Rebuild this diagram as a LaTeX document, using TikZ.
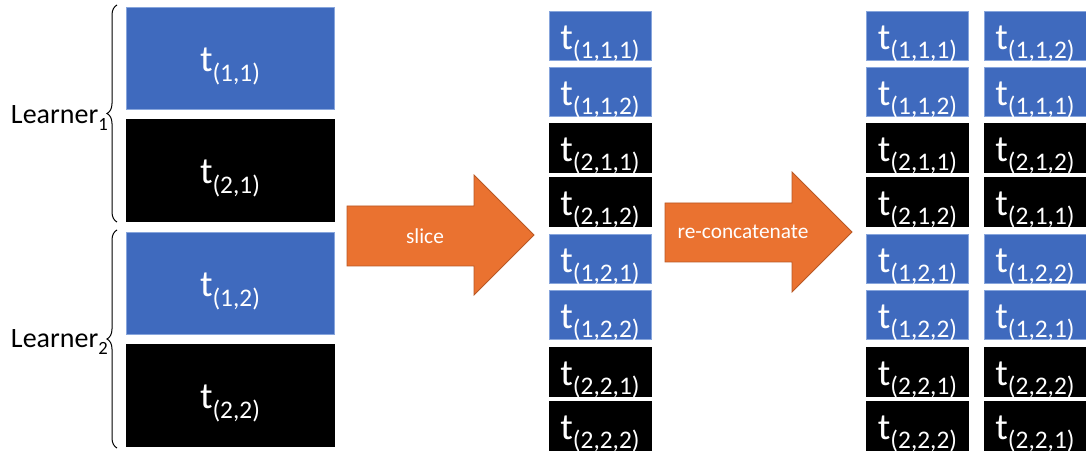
\documentclass[tikz,border=0pt]{standalone}
\usepackage{fontspec}
\setmainfont{Carlito}
\usetikzlibrary{decorations.pathreplacing}

\definecolor{tblue}{RGB}{63,106,190}
\definecolor{tedge}{RGB}{135,165,220}
\definecolor{aorange}{RGB}{234,114,48}
\definecolor{aedge}{RGB}{185,88,36}

\newcommand{\tlab}[1]{{\fontsize{28}{28}\selectfont t}\raisebox{-7pt}{\fontsize{19}{19}\selectfont (#1)}}
\newcommand{\lsub}[1]{\raisebox{-5pt}{\fontsize{14}{14}\selectfont #1}}

\tikzset{
  cell/.style = {rectangle, inner sep=0pt, text=white, text height=21pt, text depth=0pt},
  bluecell/.style = {cell, fill=tblue, draw=tedge, line width=0.6pt},
  blackcell/.style = {cell, fill=black, draw=black},
  bigcell/.style = {minimum width=156pt, minimum height=76.5pt},
  smallcell/.style = {minimum width=76.5pt, minimum height=36.75pt},
  blockarrow/.style = {fill=aorange, draw=aedge, line width=0.6pt},
  arrowtext/.style = {text=white, font=\fontsize{16}{16}\selectfont},
  learner/.style = {anchor=base east, inner sep=0pt, font=\fontsize{21}{21}\selectfont},
  lbrace/.style = {decorate, decoration={brace, amplitude=7.5pt}, line width=0.75pt}
}

\begin{document}
\begin{tikzpicture}[x=0.75pt, y=-0.75pt]
    \useasboundingbox (0,0) rectangle (1086,452);

    % learners
    \node[bluecell, bigcell]  (l11) at (230,58)  {\tlab{1,1}};
    \node[blackcell, bigcell] (l21) at (230,170) {\tlab{2,1}};
    \node[bluecell, bigcell]  (l12) at (230,283) {\tlab{1,2}};
    \node[blackcell, bigcell] (l22) at (230,395) {\tlab{2,2}};

    \draw[lbrace] (117,222) -- (117,5);
    \draw[lbrace] (117,448) -- (117,230);
    \node[learner] (learner1) at (108,124) {Learner\lsub{1}};
    \node[learner] (learner2) at (108,348) {Learner\lsub{2}};

    % slice
    \draw[blockarrow] (347,206) -- (474,206) -- (474,175) -- (534,235)
        -- (474,295) -- (474,266) -- (347,266) -- cycle;
    \node[arrowtext] (slice) at (425,236) {slice};

    \node[bluecell, smallcell]  (m111) at (600,35.5)  {\tlab{1,1,1}};
    \node[bluecell, smallcell]  (m112) at (600,91.5)  {\tlab{1,1,2}};
    \node[blackcell, smallcell] (m211) at (600,147.5) {\tlab{2,1,1}};
    \node[blackcell, smallcell] (m212) at (600,201.5) {\tlab{2,1,2}};
    \node[bluecell, smallcell]  (m121) at (600,258.5) {\tlab{1,2,1}};
    \node[bluecell, smallcell]  (m122) at (600,314.5) {\tlab{1,2,2}};
    \node[blackcell, smallcell] (m221) at (600,371.5) {\tlab{2,2,1}};
    \node[blackcell, smallcell] (m222) at (600,425.5) {\tlab{2,2,2}};

    % re-concatenate
    \draw[blockarrow] (665,203) -- (792,203) -- (792,172) -- (852,232)
        -- (792,292) -- (792,262) -- (665,262) -- cycle;
    \node[arrowtext] (concat) at (743,232) {re-concatenate};

    \node[bluecell, smallcell]  (a111) at (917.5,35.5)  {\tlab{1,1,1}};
    \node[bluecell, smallcell]  (a112) at (917.5,91.5)  {\tlab{1,1,2}};
    \node[blackcell, smallcell] (a211) at (917.5,147.5) {\tlab{2,1,1}};
    \node[blackcell, smallcell] (a212) at (917.5,201.5) {\tlab{2,1,2}};
    \node[bluecell, smallcell]  (a121) at (917.5,258.5) {\tlab{1,2,1}};
    \node[bluecell, smallcell]  (a122) at (917.5,314.5) {\tlab{1,2,2}};
    \node[blackcell, smallcell] (a221) at (917.5,371.5) {\tlab{2,2,1}};
    \node[blackcell, smallcell] (a222) at (917.5,425.5) {\tlab{2,2,2}};

    \node[bluecell, smallcell]  (b112) at (1035,35.5)  {\tlab{1,1,2}};
    \node[bluecell, smallcell]  (b111) at (1035,91.5)  {\tlab{1,1,1}};
    \node[blackcell, smallcell] (b212) at (1035,147.5) {\tlab{2,1,2}};
    \node[blackcell, smallcell] (b211) at (1035,201.5) {\tlab{2,1,1}};
    \node[bluecell, smallcell]  (b122) at (1035,258.5) {\tlab{1,2,2}};
    \node[bluecell, smallcell]  (b121) at (1035,314.5) {\tlab{1,2,1}};
    \node[blackcell, smallcell] (b222) at (1035,371.5) {\tlab{2,2,2}};
    \node[blackcell, smallcell] (b221) at (1035,425.5) {\tlab{2,2,1}};

\end{tikzpicture}
\end{document}
